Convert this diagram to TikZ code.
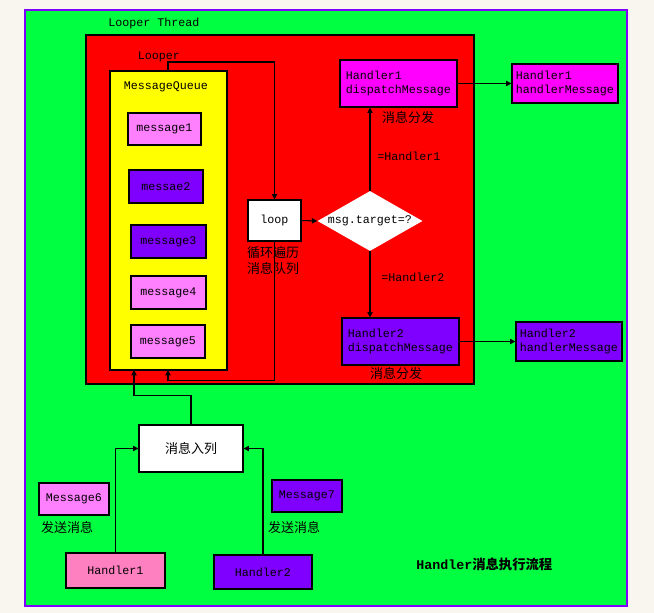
\documentclass[tikz,border=0pt]{standalone}
\usepackage{fontspec}
\setmainfont{Liberation Mono}
\newfontfamily\cjk{Noto Sans CJK SC}
\usetikzlibrary{arrows.meta,shapes.geometric}
\definecolor{bgc}{HTML}{F9F5EF}
\definecolor{grn}{HTML}{00FF40}
\definecolor{prp}{HTML}{8000FF}
\definecolor{pnk}{HTML}{FF80FF}
\definecolor{mag}{HTML}{FF00FF}
\definecolor{hpk}{HTML}{FF80C0}
\definecolor{ylw}{HTML}{FFFF00}
\begin{document}
\begin{tikzpicture}[x=0.75pt,y=-0.75pt,
  box/.style={draw,line width=0.9pt,inner sep=0pt,font=\fontsize{8.75pt}{10.5pt}\selectfont},
  lbl/.style={inner sep=0pt,font=\fontsize{8.75pt}{10.5pt}\selectfont},
  zh/.style={inner sep=0pt,font=\cjk\fontsize{9.75pt}{12pt}\selectfont},
  arr/.style={line width=0.8pt,-{Triangle[length=4pt,width=4pt]}},
  ln/.style={line width=0.8pt}]
\useasboundingbox (0,0) rectangle (654,613);
\fill[bgc] (0,0) rectangle (654,613);
% containers
\draw[fill=grn,draw=prp,line width=1.2pt] (25,10) rectangle (627,606);
\draw[fill=red,line width=0.9pt] (86,35) rectangle (474,384);
\draw[fill=ylw,line width=0.9pt] (110,71) rectangle (227,370);
\node[lbl] (lt) at (154,23) {Looper Thread};
\node[lbl] (lpr) at (159,57) {Looper};
\node[lbl] (mq) at (166,87) {MessageQueue};
% messages
\node[box,fill=pnk,minimum width=54.75pt,minimum height=24pt] (m1) at (164.5,129) {message1};
\node[box,fill=prp,minimum width=55.5pt,minimum height=24.75pt] (m2) at (166,186.5) {messae2};
\node[box,fill=prp,minimum width=56.25pt,minimum height=24.75pt] (m3) at (168.5,241.5) {message3};
\node[box,fill=pnk,minimum width=56.25pt,minimum height=24.75pt] (m4) at (168.5,292.5) {message4};
\node[box,fill=pnk,minimum width=55.5pt,minimum height=24.75pt] (m5) at (168,341.5) {message5};
% loop and decision
\node[box,fill=white,minimum width=39.75pt,minimum height=30.75pt] (loop) at (274.5,220.5) {loop};
\node[zh,align=center] (lpt) at (273,261) {循环遍历\\消息队列};
\node[diamond,fill=white,inner sep=0pt,minimum width=78.75pt,minimum height=45pt] (d) at (370,221) {};
\node[lbl] (dt) at (d) {msg.target=?};
% handlers
\node[box,fill=mag,align=left,minimum width=87.75pt,minimum height=35.25pt] (h1d) at (398.5,83.5) {Handler1\\dispatchMessage};
\node[box,fill=mag,align=left,minimum width=79.5pt,minimum height=29.25pt] (h1h) at (565,83.5) {Handler1\\handlerMessage};
\node[box,fill=prp,align=left,minimum width=87.75pt,minimum height=35.25pt] (h2d) at (400.5,341.5) {Handler2\\dispatchMessage};
\node[box,fill=prp,align=left,minimum width=79.5pt,minimum height=29.25pt] (h2h) at (569,341.5) {Handler2\\handlerMessage};
\node[zh] (f1) at (408,118) {消息分发};
\node[zh] (f2) at (396,374) {消息分发};
\node[lbl,anchor=west] (e1) at (377,156) {=Handler1};
\node[lbl,anchor=west] (e2) at (381,277) {=Handler2};
% bottom part
\node[box,fill=white,font=\cjk\fontsize{9.75pt}{12pt}\selectfont,minimum width=78pt,minimum height=35.25pt] (enq) at (191,448.5) {消息入列};
\node[box,fill=pnk,minimum width=52.5pt,minimum height=24pt] (m6) at (74,499) {Message6};
\node[box,fill=prp,minimum width=52.5pt,minimum height=24pt] (m7) at (307,496) {Message7};
\node[zh] (s1) at (67,528) {发送消息};
\node[zh] (s2) at (294,528) {发送消息};
\node[box,fill=hpk,minimum width=74.25pt,minimum height=26.25pt] (hd1) at (115.5,570.5) {Handler1};
\node[box,fill=prp,minimum width=73.5pt,minimum height=25.5pt] (hd2) at (263,572) {Handler2};
\node[inner sep=0pt,anchor=west,font=\fontsize{10pt}{12pt}\selectfont] (title) at (416,564) {\bfseries Handler{\cjk\bfseries 消息执行流程}};
% connectors
\coordinate (yt) at (168,71);
\coordinate (yb) at (168,370);
\coordinate (yb2) at (134,370);
\draw[arr] (yt) -- ++(0,-9) -| (loop.north);
\draw[arr] (loop.south) -- ++(0,139) -| (yb);
\draw[arr] (loop.east) -- (d.west);
\draw[arr] (d.north) -- (d.north |- h1d.south);
\draw[arr] (d.south) -- (d.south |- h2d.north);
\draw[arr] (h1d.east) -- (h1h.west);
\draw[arr] (h2d.east) -- (h2h.west);
\draw[arr] (enq.north) -- ++(0,-29) -| (yb2);
\draw[arr] (hd1.north) |- (enq.west);
\draw[arr] (hd2.north) |- (enq.east);
\end{tikzpicture}
\end{document}
